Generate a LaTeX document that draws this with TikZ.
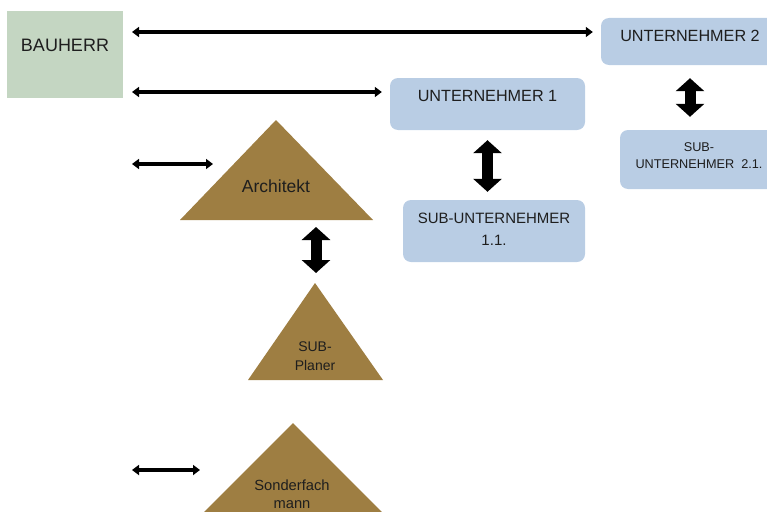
\documentclass[tikz,border=0pt]{standalone}
\usepackage{fontspec}
\setmainfont{Liberation Sans}
\usetikzlibrary{arrows.meta}
\definecolor{bauherrgreen}{RGB}{196,214,194}
\definecolor{firmblue}{RGB}{185,205,228}
\definecolor{planerbrown}{RGB}{158,126,66}
\definecolor{labelgrey}{RGB}{30,30,30}
\tikzset{
  ownerbox/.style={rectangle, fill=bauherrgreen, minimum width=116pt, minimum height=87pt, inner sep=0pt, text=labelgrey},
  firmbox/.style={rectangle, rounded corners=8pt, fill=firmblue, inner sep=0pt, align=center, text=labelgrey},
  tri/.style={fill=planerbrown},
  trilabel/.style={align=center, text=labelgrey},
  link/.style={line width=4pt, {Triangle[length=7pt,width=10pt]}-{Triangle[length=7pt,width=10pt]}},
  bigarrow/.style={line width=11pt, {Triangle[length=13pt,width=28pt]}-{Triangle[length=13pt,width=28pt]}}
}
\begin{document}
\begin{tikzpicture}[x=1pt,y=-1pt]
\useasboundingbox (0,0) rectangle (767,511);
% client
\node[ownerbox, text depth=19pt, font=\fontsize{18}{20}\selectfont] (bauherr) at (65,54.5) {BAUHERR};
% contractors
\node[firmbox, minimum width=178pt, minimum height=47pt, text depth=12pt, font=\fontsize{16.2}{18}\selectfont] (u2) at (690,41.5) {UNTERNEHMER 2};
\node[firmbox, minimum width=195pt, minimum height=52pt, text depth=16pt, font=\fontsize{16.2}{18}\selectfont] (u1) at (487.5,104) {UNTERNEHMER 1};
\node[firmbox, minimum width=182pt, minimum height=62pt, text depth=4pt, font=\fontsize{15}{22}\selectfont] (sub11) at (494,231) {SUB-UNTERNEHMER\\1.1.};
\node[firmbox, minimum width=158pt, minimum height=59pt, text depth=8pt, font=\fontsize{12.7}{17}\selectfont] (sub21) at (699,159.5) {SUB-\\UNTERNEHMER~~2.1.};
% planners
\fill[tri] (276,120) coordinate (arch-n) -- (373,220) -- (180,220) -- cycle;
\node[trilabel, font=\fontsize{17.5}{19}\selectfont] (arch) at (276,186) {Architekt};
\fill[tri] (315,283) coordinate (plan-n) -- (383,380) -- (248,380) -- cycle;
\node[trilabel, font=\fontsize{14}{19}\selectfont] (plan) at (315,356) {SUB-\\Planer};
\fill[tri] (293,423) -- (413,543) -- (173,543) -- cycle;
\node[trilabel, font=\fontsize{14.7}{18}\selectfont] (sonder) at (292,494) {Sonderfach\\mann};
% free ends on the left
\coordinate (l1) at (132,32);
\coordinate (l2) at (132,92);
\coordinate (l3) at (132,164);
\coordinate (l4) at (132,470);
\coordinate (r3) at (213,164);
\coordinate (r4) at (200,470);
\coordinate (arch-s) at (316,220);
\coordinate (plan-top) at (316,283);
% connectors
\draw[link, shorten >=8pt] (l1) -- (l1 -| u2.west);
\draw[link, shorten >=8pt] (l2) -- (l2 -| u1.west);
\draw[link] (l3) -- (r3);
\draw[link] (l4) -- (r4);
\draw[bigarrow, shorten <=10pt, shorten >=8pt] (u1.south) -- (sub11.north -| u1.south);
\draw[bigarrow, shorten <=13pt, shorten >=13pt] (u2.south) -- (sub21.north -| u2.south);
\draw[bigarrow, shorten <=7pt, shorten >=10pt] (arch-s) -- (plan-top);
\end{tikzpicture}
\end{document}
